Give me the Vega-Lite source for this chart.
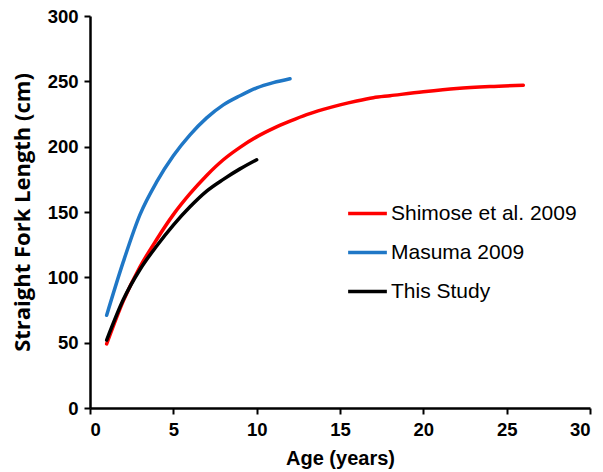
{
  "$schema": "https://vega.github.io/schema/vega-lite/v6.json",
  "width": 500,
  "height": 392,
  "autosize": {"type": "none"},
  "padding": {"left": 90, "top": 16, "right": 13, "bottom": 64},
  "background": "white",
  "data": {
    "values": [
      {"series": "Shimose et al. 2009", "age": 1, "len": 49},
      {"series": "Shimose et al. 2009", "age": 2, "len": 82},
      {"series": "Shimose et al. 2009", "age": 3, "len": 108},
      {"series": "Shimose et al. 2009", "age": 4, "len": 129},
      {"series": "Shimose et al. 2009", "age": 5, "len": 148},
      {"series": "Shimose et al. 2009", "age": 6, "len": 164},
      {"series": "Shimose et al. 2009", "age": 7, "len": 178},
      {"series": "Shimose et al. 2009", "age": 8, "len": 190},
      {"series": "Shimose et al. 2009", "age": 9, "len": 199.5},
      {"series": "Shimose et al. 2009", "age": 10, "len": 207.5},
      {"series": "Shimose et al. 2009", "age": 11, "len": 214},
      {"series": "Shimose et al. 2009", "age": 12, "len": 219.5},
      {"series": "Shimose et al. 2009", "age": 13, "len": 224.5},
      {"series": "Shimose et al. 2009", "age": 14, "len": 228.5},
      {"series": "Shimose et al. 2009", "age": 15, "len": 232},
      {"series": "Shimose et al. 2009", "age": 16, "len": 235},
      {"series": "Shimose et al. 2009", "age": 17, "len": 237.5},
      {"series": "Shimose et al. 2009", "age": 18, "len": 239},
      {"series": "Shimose et al. 2009", "age": 20, "len": 242},
      {"series": "Shimose et al. 2009", "age": 22, "len": 244.5},
      {"series": "Shimose et al. 2009", "age": 24, "len": 246},
      {"series": "Shimose et al. 2009", "age": 26, "len": 247},
      {"series": "Masuma 2009", "age": 1, "len": 71},
      {"series": "Masuma 2009", "age": 2, "len": 112},
      {"series": "Masuma 2009", "age": 3, "len": 148},
      {"series": "Masuma 2009", "age": 4, "len": 173},
      {"series": "Masuma 2009", "age": 5, "len": 193},
      {"series": "Masuma 2009", "age": 6, "len": 209},
      {"series": "Masuma 2009", "age": 7, "len": 222},
      {"series": "Masuma 2009", "age": 8, "len": 232},
      {"series": "Masuma 2009", "age": 9, "len": 239},
      {"series": "Masuma 2009", "age": 10, "len": 245},
      {"series": "Masuma 2009", "age": 11, "len": 249},
      {"series": "Masuma 2009", "age": 12, "len": 252},
      {"series": "This Study", "age": 1, "len": 52},
      {"series": "This Study", "age": 2, "len": 83},
      {"series": "This Study", "age": 3, "len": 106},
      {"series": "This Study", "age": 4, "len": 124},
      {"series": "This Study", "age": 5, "len": 140},
      {"series": "This Study", "age": 6, "len": 154},
      {"series": "This Study", "age": 7, "len": 166},
      {"series": "This Study", "age": 8, "len": 175},
      {"series": "This Study", "age": 9, "len": 183},
      {"series": "This Study", "age": 10, "len": 190}
    ]
  },
  "mark": {"type": "line", "strokeWidth": 3.5, "interpolate": "monotone", "strokeCap": "round"},
  "encoding": {
    "x": {
      "field": "age", "type": "quantitative",
      "scale": {"domain": [0, 30], "nice": false, "zero": true},
      "axis": {"values": [0, 5, 10, 15, 20, 25, 30], "title": "Age (years)", "grid": false, "titlePadding": 10, "labelPadding": 6}
    },
    "y": {
      "field": "len", "type": "quantitative",
      "scale": {"domain": [0, 300], "nice": false},
      "axis": {"values": [0, 50, 100, 150, 200, 250, 300], "title": "Straight Fork Length (cm)", "grid": false, "titleFont": "Open Sans", "titleFontSize": 22, "titlePadding": 13, "labelPadding": 6}
    },
    "color": {
      "field": "series", "type": "nominal",
      "scale": {"domain": ["Shimose et al. 2009", "Masuma 2009", "This Study"], "range": ["#ff0000", "#1f77c6", "#000000"]},
      "legend": {
        "title": null, "orient": "none", "legendX": 256, "legendY": 176,
        "symbolType": "stroke", "symbolSize": 1500, "symbolStrokeWidth": 3.5,
        "labelFont": "Liberation Sans", "labelFontSize": 21, "labelColor": "#000000", "labelLimit": 0,
        "labelOffset": 2, "rowPadding": 7, "padding": 0
      }
    },
    "order": {"field": "age", "type": "quantitative"}
  },
  "config": {
    "view": {"stroke": null},
    "axis": {
      "domainColor": "#000000", "domainWidth": 2.5,
      "tickColor": "#000000", "tickWidth": 2, "tickSize": 6,
      "labelFont": "Liberation Sans", "labelFontSize": 18.5, "labelFontWeight": "bold", "labelColor": "#000000",
      "titleFont": "Liberation Sans", "titleFontSize": 20, "titleFontWeight": "bold", "titleColor": "#000000"
    }
  }
}
